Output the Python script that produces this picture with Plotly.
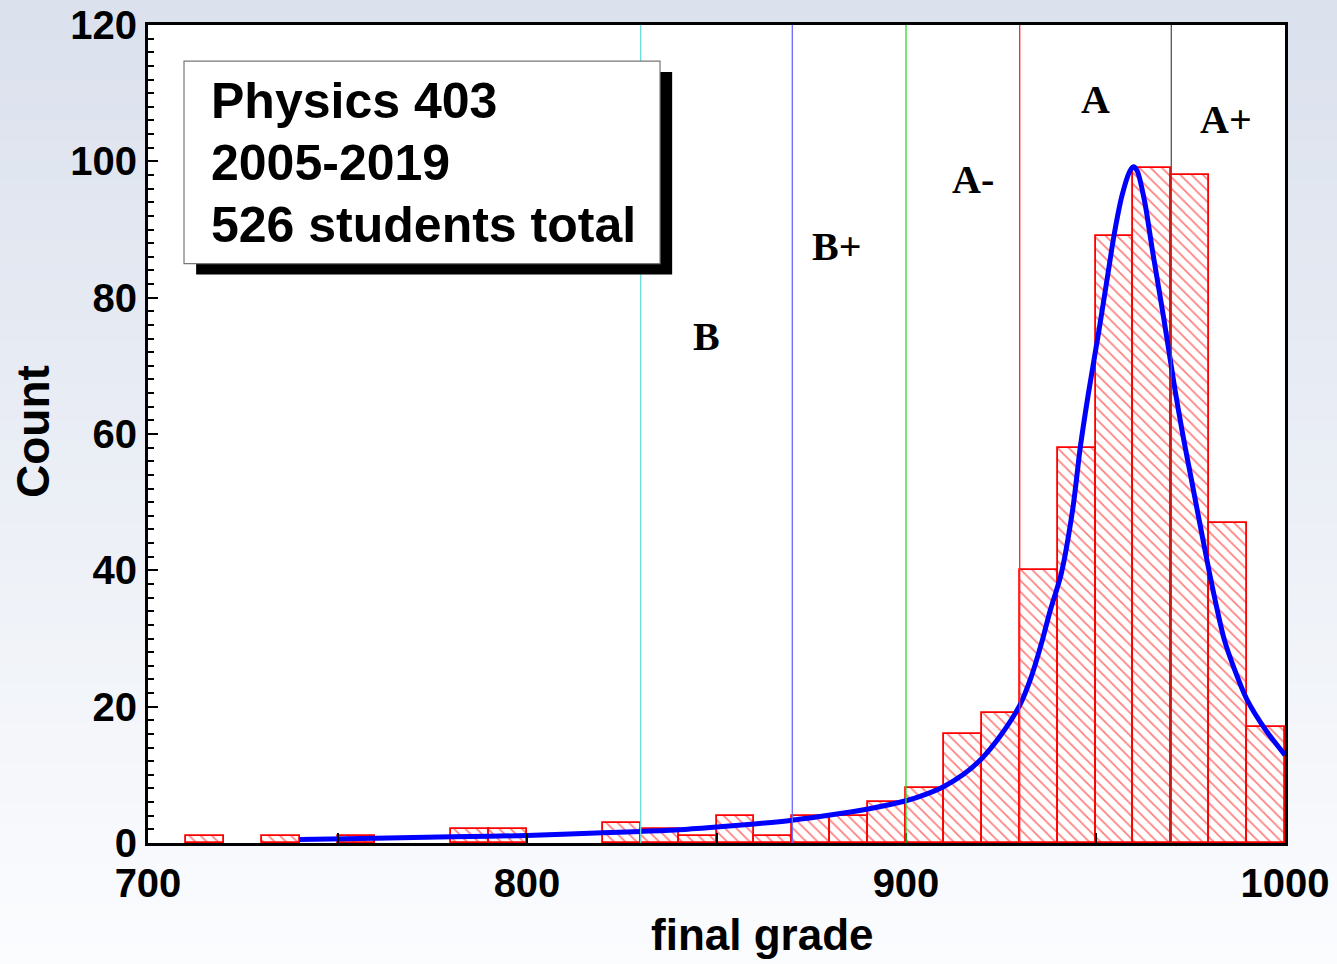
import plotly.graph_objects as go

# ---- data ----
bin_left = [710, 730, 750, 780, 790, 820, 830, 840, 850, 860, 870, 880, 890,
            900, 910, 920, 930, 940, 950, 960, 970, 980, 990]
counts = [1, 1, 1, 2, 2, 3, 2, 1, 4, 1, 4, 4, 6,
          8, 16, 19, 40, 58, 89, 99, 98, 47, 17]
bin_width = 10

fit_x = [740, 760, 780, 800, 820, 830, 840, 850, 860, 870, 880, 890, 900, 905, 910, 915,
         920, 925, 930, 933, 936, 938, 941, 944, 946, 948, 951, 953, 955, 957, 959, 960,
         961, 963, 965, 968, 971, 973, 975, 978, 981, 984, 987, 990, 995, 1000]
fit_y = [0.5, 0.7, 0.9, 1.1, 1.5, 1.7, 1.95, 2.35, 2.8, 3.35, 4.1, 5.0, 6.2, 7.1, 8.3, 10.0,
         12.4, 15.8, 20.2, 24.3, 29.8, 34.0, 39.6, 49.0, 58.1, 65.5, 75.5, 82.5, 89.5, 95.0, 98.5, 99.2,
         98.6, 94.0, 87.0, 77.0, 66.4, 60.0, 54.2, 45.5, 37.1, 29.8, 25.0, 21.0, 16.5, 12.9]

cut_x = [830, 870, 900, 930, 970]
cut_colors = ["#66dddd", "#6a6aff", "#22dd22", "#ff2222", "#555555"]

grade_labels = ["B", "B+", "A-", "A", "A+"]
grade_x = [847.4, 881.6, 917.7, 949.9, 984.5]
grade_y = [74.3, 87.5, 97.3, 109.0, 106.2]

info_lines = ["Physics 403", "2005-2019", "526 students total"]
info_y = [108.9, 99.8, 90.7]

x_tickvals = [700, 750, 800, 850, 900, 950, 1000]
x_ticktext = ["700", "", "800", "", "900", "", "1000"]
y_tickvals = [0, 20, 40, 60, 80, 100, 120]
y_ticktext = ["0", "20", "40", "60", "80", "100", "120"]

x_title = "final grade"
y_title = "Count"

W, H = 1337, 964
ML, MR, MT, MB = 148, 52, 25, 121
PW, PH = W - ML - MR, H - MT - MB

fig = go.Figure()

# background gradient (paper coords)
shapes = []
nb = 48
top = (219, 225, 237)
bot = (251, 252, 254)
for i in range(nb):
    f = i / (nb - 1)
    c = tuple(int(round(top[k] + (bot[k] - top[k]) * f)) for k in range(3))
    y1 = 1 + MT / PH - i * (H / PH) / nb
    y0 = y1 - (H / PH) / nb - 0.002
    shapes.append(dict(type="rect", xref="paper", yref="paper",
                       x0=-ML / PW - 0.01, x1=1 + MR / PW + 0.01,
                       y0=y0, y1=y1, fillcolor="rgb(%d,%d,%d)" % c,
                       line=dict(width=0), layer="below"))
# white plot area
shapes.append(dict(type="rect", xref="paper", yref="paper", x0=0, x1=1, y0=0, y1=1,
                   fillcolor="white", line=dict(width=0), layer="below"))

# cut lines
for cx, cc in zip(cut_x, cut_colors):
    shapes.append(dict(type="line", xref="x", yref="y", x0=cx, x1=cx, y0=0, y1=120,
                       line=dict(color=cc, width=1.3), layer="above"))

# info box shadow + box
shapes.append(dict(type="rect", xref="x", yref="y", x0=712.7, x1=838.3, y0=83.4, y1=113.1,
                   fillcolor="black", line=dict(width=0), layer="above"))
shapes.append(dict(type="rect", xref="x", yref="y", x0=709.5, x1=835.1, y0=85.0, y1=114.7,
                   fillcolor="white", line=dict(color="#777777", width=1.2), layer="above"))

fig.add_trace(go.Bar(
    x=[b + bin_width / 2 for b in bin_left], y=counts, width=bin_width,
    marker=dict(color="rgba(0,0,0,0)",
                line=dict(color="red", width=1.8),
                pattern=dict(shape="\\", fgcolor="red", bgcolor="rgba(0,0,0,0)",
                             size=8, solidity=0.22)),
    showlegend=False, hoverinfo="skip"))

fig.add_trace(go.Scatter(x=fit_x, y=fit_y, mode="lines",
                         line=dict(color="#0000ff", width=5, shape="spline", smoothing=0.8),
                         showlegend=False, hoverinfo="skip"))

annotations = []
for t, x, y in zip(grade_labels, grade_x, grade_y):
    annotations.append(dict(x=x, y=y, xref="x", yref="y", text="<b>%s</b>" % t,
                            showarrow=False, xanchor="center", yanchor="middle",
                            font=dict(family="Liberation Serif", size=40, color="black")))
for t, y in zip(info_lines, info_y):
    annotations.append(dict(x=716.1, y=y, xref="x", yref="y", text="<b>%s</b>" % t,
                            showarrow=False, xanchor="left", yanchor="middle",
                            font=dict(family="Liberation Sans", size=50, color="black")))
# axis titles
annotations.append(dict(x=(762 - ML) / PW, y=-(934 - MT - PH) / PH, xref="paper", yref="paper",
                        text="<b>%s</b>" % x_title, showarrow=False,
                        xanchor="center", yanchor="middle",
                        font=dict(family="Liberation Sans", size=44, color="black")))
annotations.append(dict(x=-(ML - 33) / PW, y=(843 - 432) / PH, xref="paper", yref="paper",
                        text="<b>%s</b>" % y_title, showarrow=False, textangle=-90,
                        xanchor="center", yanchor="middle",
                        font=dict(family="Liberation Sans", size=46, color="black")))

fig.update_layout(
    width=W, height=H,
    margin=dict(l=ML, r=MR, t=MT, b=MB, autoexpand=False),
    paper_bgcolor="#eef1f7", plot_bgcolor="white",
    bargap=0, shapes=shapes, annotations=annotations,
    font=dict(family="Liberation Sans", color="black"),
)
fig.update_xaxes(range=[700, 1000], tickvals=x_tickvals,
                 ticktext=["<b>%s</b>" % t if t else "" for t in x_ticktext],
                 ticks="inside", ticklen=10, tickwidth=2, tickcolor="black",
                 showline=True, linecolor="black", linewidth=3, mirror=True,
                 showgrid=False, zeroline=False, automargin=False,
                 ticklabelstandoff=3,
                 tickfont=dict(family="Liberation Sans", size=40, color="black"))
fig.update_yaxes(range=[0, 120], tickvals=y_tickvals,
                 ticktext=["<b>%s</b>" % t for t in y_ticktext],
                 ticks="inside", ticklen=10, tickwidth=2, tickcolor="black",
                 minor=dict(dtick=2, ticks="inside", ticklen=6, tickwidth=1.5, tickcolor="black"),
                 showline=True, linecolor="black", linewidth=3, mirror=True,
                 showgrid=False, zeroline=False, automargin=False,
                 tickfont=dict(family="Liberation Sans", size=40, color="black"))

fig.write_html("out.html", config={"displayModeBar": False},
               post_script="document.body.style.margin='0';")
